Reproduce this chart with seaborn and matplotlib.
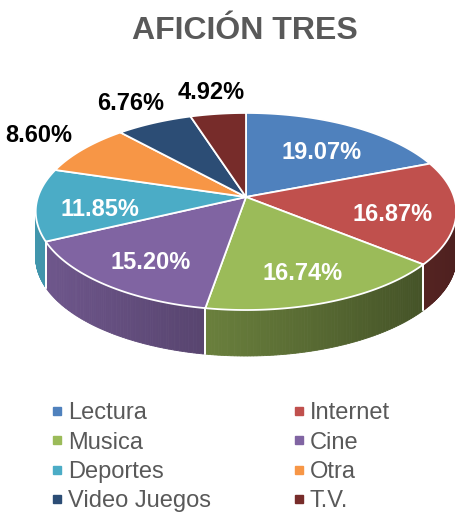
import numpy as np
import matplotlib
matplotlib.use('Agg')
import matplotlib.pyplot as plt
from matplotlib.lines import Line2D
from matplotlib.patches import Polygon
import seaborn as sns

labels = ['Lectura', 'Internet', 'Musica', 'Cine', 'Deportes', 'Otra', 'Video Juegos', 'T.V.']
values = [19.07, 16.87, 16.74, 15.20, 11.85, 8.60, 6.76, 4.92]
colors = ['#4F81BD', '#C0504D', '#9BBB59', '#8064A2', '#4BACC6', '#F79646', '#2C4D75', '#772C2A']
title = 'AFICIÓN TRES'

sns.set_theme(style='white')
plt.rcParams['font.family'] = ['Liberation Sans', 'DejaVu Sans']
palette = sns.color_palette(colors)

# tilted pie geometry (pixels)
CX, CY = 246, 197
RX, RY = 208, 96.4
K = 0.147          # perspective
H = 46             # thickness


def proj(theta, r=1.0):
    t = np.radians(theta)
    u = r * np.cos(t)
    v = -r * np.sin(t)
    d = 1 - K * v
    return CX + RX * u / d, CY + RY * v / d


fig = plt.figure(figsize=(4.56, 5.14), dpi=100)
ax = fig.add_axes([0, 0, 1, 1])
ax.set_xlim(0, 456)
ax.set_ylim(514, 0)
ax.axis('off')

vals = np.array(values)
bounds = 90 - 360 * np.concatenate([[0], np.cumsum(vals / vals.sum())])
vis_lo, vis_hi = -180 + np.degrees(np.arcsin(K)), -np.degrees(np.arcsin(K))

# side walls (front half only)
for i in range(len(vals)):
    a0, a1 = bounds[i], bounds[i + 1]
    lo, hi = max(min(a0, a1), vis_lo), min(max(a0, a1), vis_hi)
    if lo >= hi:
        continue
    th = np.linspace(lo, hi, 80)
    xs, ys = proj(th)
    base = np.array(palette[i])
    for j in range(len(th) - 1):
        u = (xs[j] + xs[j + 1]) / 2 - CX
        f = 0.64 - 0.23 * u / RX
        c = np.clip(base * f, 0, 1)
        quad = [(xs[j], ys[j]), (xs[j + 1], ys[j + 1]),
                (xs[j + 1], ys[j + 1] + H), (xs[j], ys[j] + H)]
        ax.add_patch(Polygon(quad, closed=True, facecolor=c, edgecolor=c, lw=0.6))
    for b in (a0, a1):
        if vis_lo < b < vis_hi:
            bx, by = proj(b)
            ax.plot([bx, bx], [by, by + H], color='white', lw=1.3)

# top faces
for i in range(len(vals)):
    th = np.linspace(bounds[i], bounds[i + 1], 120)
    xs, ys = proj(th)
    pts = [(CX, CY)] + list(zip(xs, ys))
    ax.add_patch(Polygon(pts, closed=True, facecolor=palette[i],
                         edgecolor='white', lw=1.3, joinstyle='round'))

# data labels
for i, v in enumerate(vals):
    mid = (bounds[i] + bounds[i + 1]) / 2
    inside = v >= 10
    if inside:
        lx, ly = proj(mid, 0.7)
        ly += 7
    else:
        lx, ly = proj(mid, 1.3)
    ax.text(lx, ly, f'{v:.2f}%', ha='center', va='center', fontsize=17,
            fontweight='bold', color='white' if inside else 'black')

ax.text(245, 31, title, ha='center', va='center', fontsize=23,
        fontweight='bold', color='#595959')

order = [0, 2, 4, 6, 1, 3, 5, 7]
handles = [Line2D([], [], marker='s', ls='', markersize=6, color=palette[i],
                  label=labels[i]) for i in order]
leg = ax.legend(handles=handles, ncol=2, loc='upper left',
                bbox_to_anchor=(42 / 456, 1 - 393 / 514), frameon=False,
                fontsize=17, handlelength=0.5, handletextpad=0.22,
                columnspacing=3.45, labelspacing=0.31, borderaxespad=0)
for t in leg.get_texts():
    t.set_color('#595959')

fig.savefig('out.png', dpi=100)
